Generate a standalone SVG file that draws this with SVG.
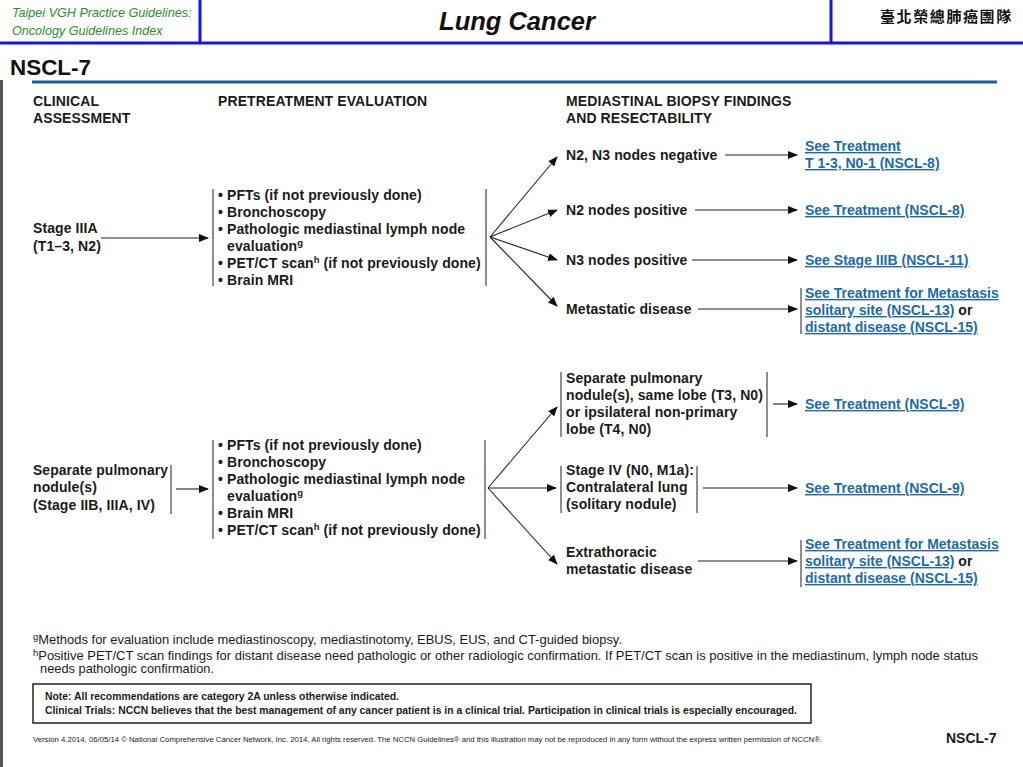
<svg xmlns="http://www.w3.org/2000/svg" width="1023" height="767" viewBox="0 0 1023 767">
<style>
text{font-family:"Liberation Sans",Arial,sans-serif;fill:#1a1a1a}
.b{font-weight:bold;font-size:14px;letter-spacing:0.1px}
.h{font-weight:bold;font-size:14px;letter-spacing:0.1px}
.lk{font-weight:bold;font-size:14px;fill:#1d6aab;text-decoration:underline;letter-spacing:0}
.sup{font-size:9.5px}
.bar{stroke:#333;stroke-width:1.1;fill:none}
.arr{stroke:#222;stroke-width:1.1;fill:none;marker-end:url(#ah)}
.fn{font-size:13px}
</style>
<defs>
<marker id="ah" markerUnits="userSpaceOnUse" markerWidth="10" markerHeight="8" refX="9" refY="4" orient="auto">
<path d="M0,0 L10,4 L0,8 Z" fill="#111"/>
</marker>
</defs>
<rect width="1023" height="767" fill="#fff"/>

<g id="header">
<line x1="0" y1="43" x2="1023" y2="43" stroke="#1515e6" stroke-width="3"/>
<line x1="200" y1="0" x2="200" y2="43" stroke="#1515e6" stroke-width="3"/>
<line x1="831" y1="0" x2="831" y2="43" stroke="#1515e6" stroke-width="3"/>
<text x="12" y="17" font-size="12.6" font-style="italic" style="fill:#2e8b2e">Taipei VGH Practice Guidelines:</text>
<text x="12" y="35" font-size="12.6" font-style="italic" style="fill:#2e8b2e">Oncology Guidelines Index</text>
<text x="517" y="30" font-size="25.5" font-weight="bold" font-style="italic" text-anchor="middle" style="fill:#111">Lung Cancer</text>
<text x="880" y="22" font-size="15" font-weight="bold" letter-spacing="1.6" style="font-family:'Noto Sans CJK TC','Noto Sans CJK SC',sans-serif;fill:#111">臺北榮總肺癌團隊</text>
<text x="10" y="75" font-size="22" font-weight="bold" textLength="81" lengthAdjust="spacingAndGlyphs" style="fill:#111">NSCL-7</text>
<line x1="32" y1="82" x2="997" y2="82" stroke="#1f5f96" stroke-width="3"/>
<line x1="1.5" y1="80" x2="1.5" y2="767" stroke="#555" stroke-width="3"/>
</g>

<g id="col-headers">
<text class="h" x="33" y="106">CLINICAL</text>
<text class="h" x="33" y="123">ASSESSMENT</text>
<text class="h" x="218" y="106">PRETREATMENT EVALUATION</text>
<text class="h" x="566" y="106">MEDIASTINAL BIOPSY FINDINGS</text>
<text class="h" x="566" y="123">AND RESECTABILITY</text>
</g>

<g id="stage3a">
<text class="b" x="33" y="233">Stage IIIA</text>
<text class="b" x="33" y="251">(T1–3, N2)</text>
</g>

<g id="eval1">
<line class="bar" x1="213" y1="189" x2="213" y2="286"/>
<line class="bar" x1="486" y1="189" x2="486" y2="286"/>
<text class="b" x="218" y="200">• PFTs (if not previously done)</text>
<text class="b" x="218" y="217">• Bronchoscopy</text>
<text class="b" x="218" y="234">• Pathologic mediastinal lymph node</text>
<text class="b" x="227" y="251">evaluation<tspan class="sup" dy="-5">g</tspan></text>
<text class="b" x="218" y="268">• PET/CT scan<tspan class="sup" dy="-5">h</tspan><tspan dy="5"> (if not previously done)</tspan></text>
<text class="b" x="218" y="285">• Brain MRI</text>
</g>

<g id="n-neg"><text class="b" x="566" y="160">N2, N3 nodes negative</text></g>
<g id="n2-pos"><text class="b" x="566" y="215">N2 nodes positive</text></g>
<g id="n3-pos"><text class="b" x="566" y="265">N3 nodes positive</text></g>
<g id="meta1"><text class="b" x="566" y="314">Metastatic disease</text></g>

<g id="link-nscl8a">
<text class="lk" x="805" y="151">See Treatment</text>
<text class="lk" x="805" y="168">T 1-3, N0-1 (NSCL-8)</text>
</g>
<g id="link-nscl8b"><text class="lk" x="805" y="215">See Treatment (NSCL-8)</text></g>
<g id="link-nscl11"><text class="lk" x="805" y="265">See Stage IIIB (NSCL-11)</text></g>
<g id="link-meta1">
<line class="bar" x1="801" y1="288" x2="801" y2="334" stroke="#777"/>
<text class="lk" x="805" y="298">See Treatment for Metastasis</text>
<text class="b" x="805" y="315" letter-spacing="0"><tspan class="lk">solitary site (NSCL-13)</tspan> or</text>
<text class="lk" x="805" y="332">distant disease (NSCL-15)</text>
</g>

<g id="sep-nodule">
<text class="b" x="33" y="475" textLength="135" lengthAdjust="spacingAndGlyphs">Separate pulmonary</text>
<text class="b" x="33" y="492">nodule(s)</text>
<text class="b" x="33" y="510">(Stage IIB, IIIA, IV)</text>
<line class="bar" x1="171" y1="465" x2="171" y2="514"/>
</g>

<g id="eval2">
<line class="bar" x1="213" y1="440" x2="213" y2="539"/>
<line class="bar" x1="485" y1="440" x2="485" y2="539"/>
<text class="b" x="218" y="450">• PFTs (if not previously done)</text>
<text class="b" x="218" y="467">• Bronchoscopy</text>
<text class="b" x="218" y="484">• Pathologic mediastinal lymph node</text>
<text class="b" x="227" y="501">evaluation<tspan class="sup" dy="-5">g</tspan></text>
<text class="b" x="218" y="518">• Brain MRI</text>
<text class="b" x="218" y="535">• PET/CT scan<tspan class="sup" dy="-5">h</tspan><tspan dy="5"> (if not previously done)</tspan></text>
</g>

<g id="same-lobe">
<line class="bar" x1="561" y1="372" x2="561" y2="437"/>
<line class="bar" x1="767" y1="372" x2="767" y2="437"/>
<text class="b" x="566" y="383">Separate pulmonary</text>
<text class="b" x="566" y="400" textLength="197" lengthAdjust="spacingAndGlyphs">nodule(s), same lobe (T3, N0)</text>
<text class="b" x="566" y="417">or ipsilateral non-primary</text>
<text class="b" x="566" y="434">lobe (T4, N0)</text>
</g>
<g id="stage4">
<line class="bar" x1="561" y1="466" x2="561" y2="513"/>
<line class="bar" x1="697" y1="466" x2="697" y2="513"/>
<text class="b" x="566" y="475">Stage IV (N0, M1a):</text>
<text class="b" x="566" y="492">Contralateral lung</text>
<text class="b" x="566" y="509">(solitary nodule)</text>
</g>
<g id="extrathoracic">
<text class="b" x="566" y="557">Extrathoracic</text>
<text class="b" x="566" y="574">metastatic disease</text>
</g>

<g id="link-nscl9a"><text class="lk" x="805" y="409">See Treatment (NSCL-9)</text></g>
<g id="link-nscl9b"><text class="lk" x="805" y="493">See Treatment (NSCL-9)</text></g>
<g id="link-meta2">
<line class="bar" x1="801" y1="540" x2="801" y2="587" stroke="#777"/>
<text class="lk" x="805" y="549">See Treatment for Metastasis</text>
<text class="b" x="805" y="566" letter-spacing="0"><tspan class="lk">solitary site (NSCL-13)</tspan> or</text>
<text class="lk" x="805" y="583">distant disease (NSCL-15)</text>
</g>

<g id="connectors">
<line class="arr" x1="101" y1="238" x2="208" y2="238"/>
<line class="arr" x1="490" y1="237" x2="557" y2="157"/>
<line class="arr" x1="490" y1="237" x2="557" y2="210"/>
<line class="arr" x1="490" y1="237" x2="557" y2="260"/>
<line class="arr" x1="490" y1="237" x2="557" y2="306"/>
<line class="arr" x1="725" y1="155" x2="797" y2="155"/>
<line class="arr" x1="695" y1="210" x2="797" y2="210"/>
<line class="arr" x1="692" y1="260" x2="797" y2="260"/>
<line class="arr" x1="698" y1="309" x2="797" y2="309"/>
<line class="arr" x1="176" y1="489" x2="208" y2="489"/>
<line class="arr" x1="488" y1="488" x2="557" y2="407"/>
<line class="arr" x1="488" y1="488" x2="556" y2="488"/>
<line class="arr" x1="488" y1="488" x2="557" y2="564"/>
<line class="arr" x1="773" y1="404" x2="797" y2="404"/>
<line class="arr" x1="703" y1="488" x2="797" y2="488"/>
<line class="arr" x1="698" y1="561" x2="797" y2="561"/>
</g>

<g id="footnotes">
<text class="fn" x="33" y="644" textLength="589" lengthAdjust="spacingAndGlyphs"><tspan class="sup" dy="-4">g</tspan><tspan dy="4">Methods for evaluation include mediastinoscopy, mediastinotomy, EBUS, EUS, and CT-guided biopsy.</tspan></text>
<text class="fn" x="33" y="660" textLength="945" lengthAdjust="spacingAndGlyphs"><tspan class="sup" dy="-4">h</tspan><tspan dy="4">Positive PET/CT scan findings for distant disease need pathologic or other radiologic confirmation. If PET/CT scan is positive in the mediastinum, lymph node status</tspan></text>
<text class="fn" x="40" y="673" textLength="174" lengthAdjust="spacingAndGlyphs">needs pathologic confirmation.</text>
</g>

<g id="note">
<rect x="33" y="684" width="778" height="39" fill="none" stroke="#222" stroke-width="1.5"/>
<text x="45" y="700" font-size="11" font-weight="bold" textLength="354" lengthAdjust="spacingAndGlyphs">Note:  All recommendations are category 2A unless otherwise indicated.</text>
<text x="45" y="714" font-size="11" font-weight="bold" textLength="752" lengthAdjust="spacingAndGlyphs">Clinical Trials: NCCN believes that the best management of any cancer patient is in a clinical trial.  Participation in clinical trials is especially encouraged.</text>
</g>

<g id="footer">
<text x="33" y="742" font-size="7" textLength="789" lengthAdjust="spacingAndGlyphs">Version 4.2014, 06/05/14 © National Comprehensive Cancer Network, Inc. 2014, All rights reserved. The NCCN Guidelines® and this illustration may not be reproduced in any form without the express written permission of NCCN®.</text>
<text x="946" y="743" font-size="14" font-weight="bold">NSCL-7</text>
</g>
</svg>
